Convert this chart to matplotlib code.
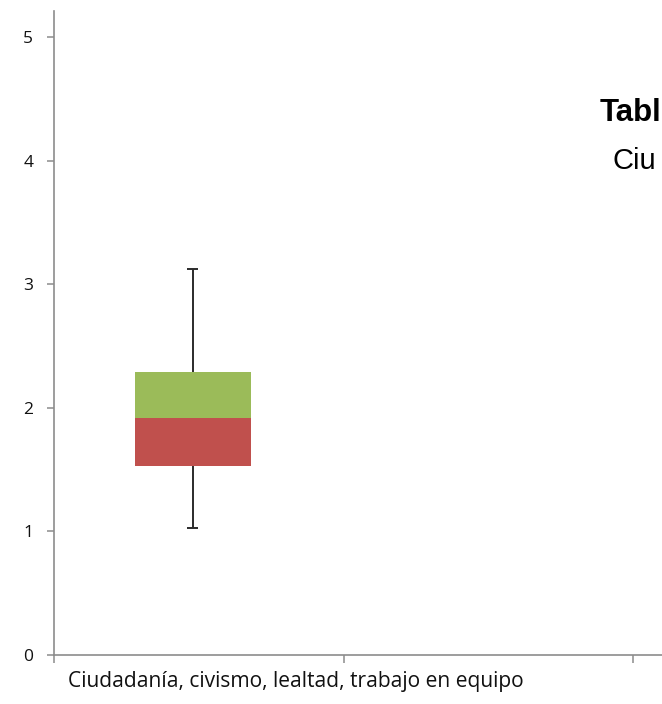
import matplotlib
matplotlib.use("Agg")
import matplotlib.pyplot as plt

# Data
categories = ["Ciudadanía, civismo, lealtad, trabajo en equipo"]
whisker_low = [1.03]
q1 = [1.53]
median = [1.92]
q3 = [2.29]
whisker_high = [3.12]
yticks = [0, 1, 2, 3, 4, 5]
# title as visible in the (cropped) reference
title_line1 = "Tabl"
title_line2 = "Ciu"

W, H = 662, 704
fig = plt.figure(figsize=(W / 100, H / 100), dpi=100)

left_px, bottom_px, top_px = 54, 655, 11
unit_w = 289.5
ax = fig.add_axes([left_px / W, (H - bottom_px) / H, 3 * unit_w / W, (bottom_px - top_px) / H])
ax.set_xlim(-0.5, 2.5)
ax.set_ylim(0, (bottom_px - top_px) / 123.6)

green = "#9BBB59"
red = "#C0504D"
pos = [-0.02]
bw = 0.403

for i in range(len(categories)):
    x = pos[i]
    ax.bar(x, median[i] - q1[i], bottom=q1[i], width=bw, color=red, edgecolor="none", zorder=3)
    ax.bar(x, q3[i] - median[i], bottom=median[i], width=bw, color=green, edgecolor="none", zorder=3)
    ax.vlines(x, q3[i], whisker_high[i], color="#2b2b2b", lw=1.4, zorder=2)
    ax.vlines(x, whisker_low[i], q1[i], color="#2b2b2b", lw=1.4, zorder=2)
    cw = 0.019
    ax.hlines([whisker_low[i], whisker_high[i]], x - cw, x + cw, color="#2b2b2b", lw=1.4, zorder=2)

for s in ["top", "right"]:
    ax.spines[s].set_visible(False)
for s in ["left", "bottom"]:
    ax.spines[s].set_color("#8c8c8c")
    ax.spines[s].set_linewidth(1.2)

ax.set_yticks(yticks)
ax.set_yticklabels([str(v) for v in yticks], fontfamily="Open Sans", fontsize=12.5, color="#111111")
ax.tick_params(axis="y", length=5, width=1.1, color="#8c8c8c", pad=10)

ax.set_xticks([-0.5, 0.5, 1.5, 2.5])
ax.set_xticklabels([])
ax.tick_params(axis="x", length=6, width=1.1, color="#8c8c8c")

for i, c in enumerate(categories):
    ax.text(-0.452 + i, -27 / 123.6, c, ha="left", va="center", fontfamily="Open Sans",
            fontsize=15.1, color="#111111", clip_on=False)

fig.text(600 / W, 1 - 121 / H, title_line1, fontfamily="Liberation Sans", fontweight="bold",
         fontsize=22.5, ha="left", va="baseline", color="black")
fig.text(613 / W, 1 - 169 / H, title_line2, fontfamily="Liberation Sans",
         fontsize=21, ha="left", va="baseline", color="black")

fig.savefig("out.png", dpi=100)
